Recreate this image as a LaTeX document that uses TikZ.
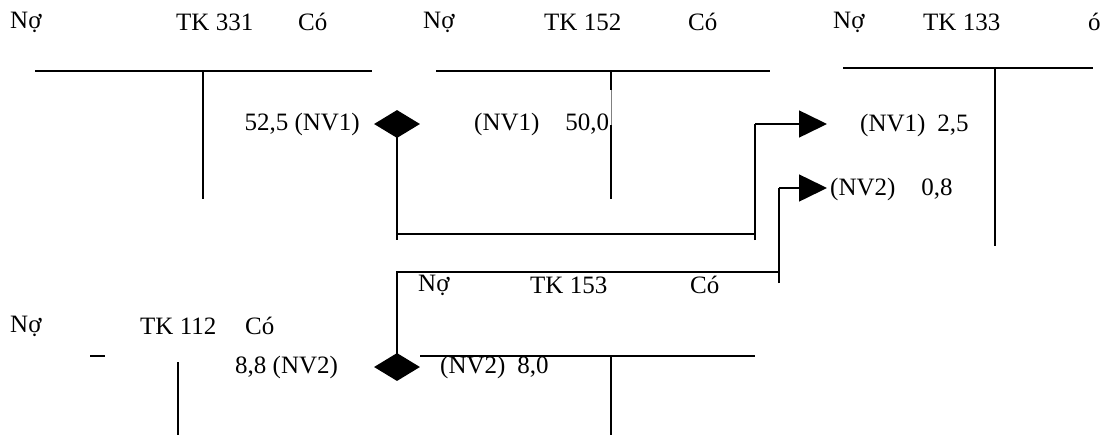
\documentclass[tikz,border=0pt]{standalone}
\usepackage{fontspec}
\setmainfont{Liberation Serif}
\usetikzlibrary{arrows.meta,shapes.geometric}
\begin{document}
\begin{tikzpicture}[x=1pt,y=-1pt,
  lbl/.style={inner sep=0pt,font=\fontsize{25}{28}\selectfont},
  acct/.style={line width=1.5pt},
  conn/.style={line width=1.5pt},
  dia/.style={diamond,fill=black,draw=none,inner sep=0pt,minimum width=46pt,minimum height=28pt},
  tri/.style={conn,-{Triangle[length=28pt,width=27pt]}}]
\useasboundingbox (0,0) rectangle (1105,445);
% headers top
\node[lbl,anchor=west] (n331) at (10,22) {Nợ};
\node[lbl,anchor=west] (t331) at (176,22) {TK 331};
\node[lbl,anchor=west] (c331) at (298,22) {Có};
\node[lbl,anchor=west] (n152) at (423,22) {Nợ};
\node[lbl,anchor=west] (t152) at (544,22) {TK 152};
\node[lbl,anchor=west] (c152) at (688,22) {Có};
\node[lbl,anchor=west] (n133) at (833,22) {Nợ};
\node[lbl,anchor=west] (t133) at (923,22) {TK 133};
\node[lbl,anchor=west] (c133) at (1088,22) {ó};
% T accounts top
\draw[acct] (35,71) -- (372,71);
\draw[acct] (203,71) -- (203,199);
\draw[acct] (436,71) -- (770,71);
\draw[acct] (611,71) -- (611,90);
\draw[line width=0.6pt,gray] (611,90) -- (611,125);
\draw[acct] (611,125) -- (611,199);
\draw[acct] (843,68) -- (1093,68);
\draw[acct] (995,68) -- (995,246);
% entries
\node[lbl,anchor=east] (e331) at (360,124) {52,5 (NV1)};
\node[lbl,anchor=west] (e152) at (474,124) {(NV1)\hspace{26pt}50,0};
\node[lbl,anchor=west] (e133a) at (860,125) {(NV1)\hspace{12pt}2,5};
\node[lbl,anchor=west] (e133b) at (830,189) {(NV2)\hspace{26pt}0,8};
% diamond 1 and connector
\node[dia] (d1) at (397,124) {};
\coordinate (p1) at (397,234);
\coordinate (p2) at (755,234);
\coordinate (p3) at (755,124);
\coordinate (a1) at (827,124);
\draw[conn] (d1.center) -- (397,240);
\draw[conn] (p1) -- (p2);
\draw[conn] (755,240) -- (p3);
\draw[tri] (p3) -- (a1);
% connector 2
\node[dia] (d2) at (397,367) {};
\coordinate (q1) at (397,272);
\coordinate (q2) at (779,272);
\coordinate (q3) at (779,188);
\coordinate (a2) at (827,188);
\draw[conn] (d2.center) -- (q1) -- (q2);
\draw[conn] (779,283) -- (q3);
\draw[tri] (q3) -- (a2);
% bottom headers
\node[lbl,anchor=west] (n153) at (418,285) {Nợ};
\node[lbl,anchor=west] (t153) at (530,285) {TK 153};
\node[lbl,anchor=west] (c153) at (690,285) {Có};
\node[lbl,anchor=west] (n112) at (10,326) {Nợ};
\node[lbl,anchor=west] (t112) at (140,326) {TK 112};
\node[lbl,anchor=west] (c112) at (245,326) {Có};
% bottom T accounts
\draw[acct] (420,356) -- (755,356);
\draw[acct] (611,356) -- (611,435);
\draw[acct] (90,356) -- (105,356);
\draw[acct] (178,362) -- (178,435);
\node[lbl,anchor=west] (e112) at (235,367) {8,8 (NV2)};
\node[lbl,anchor=west] (e153) at (440,367) {(NV2)\hspace{12pt}8,0};
\end{tikzpicture}
\end{document}
